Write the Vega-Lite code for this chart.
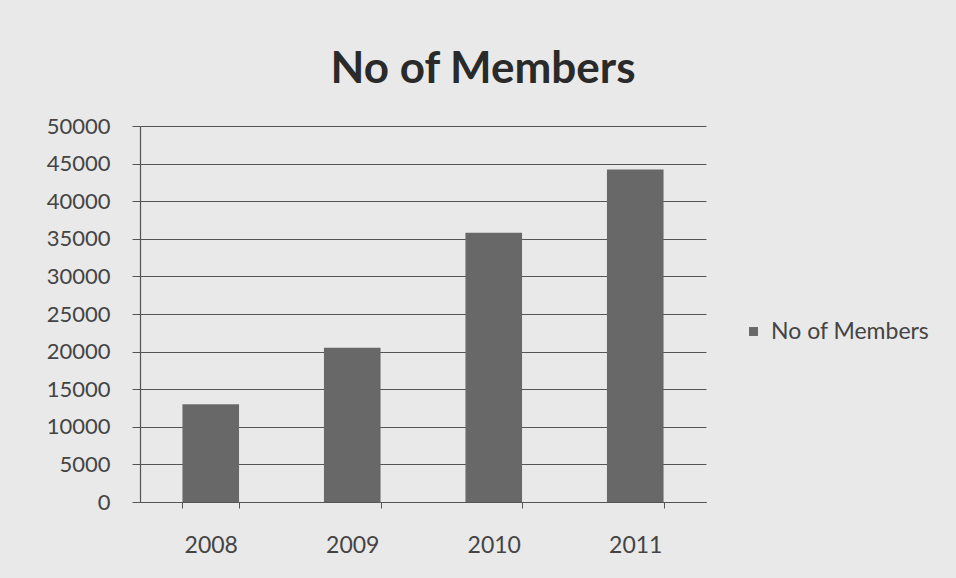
{
  "$schema": "https://vega.github.io/schema/vega-lite/v6.json",
  "autosize": "none",
  "width": 566,
  "height": 376,
  "padding": {"left": 140, "top": 126, "right": 250, "bottom": 76},
  "background": "#e9e9e9",
  "config": {
    "font": "Lato",
    "view": {"stroke": null},
    "axis": {"labelFont": "Lato", "labelColor": "#444444", "domainColor": "#555555", "tickColor": "#555555", "gridColor": "#555555"}
  },
  "title": {
    "text": "No of Members",
    "fontSize": 44,
    "font": "Lato",
    "fontWeight": "bold",
    "color": "#2a2a2a",
    "anchor": "middle",
    "dx": 60,
    "offset": 23
  },
  "data": {
    "values": [
      {"year": "2008", "members": 13000, "series": "No of Members"},
      {"year": "2009", "members": 20500, "series": "No of Members"},
      {"year": "2010", "members": 35800, "series": "No of Members"},
      {"year": "2011", "members": 44200, "series": "No of Members"}
    ]
  },
  "mark": {"type": "bar", "color": "#686868"},
  "encoding": {
    "x": {
      "field": "year",
      "type": "nominal",
      "scale": {"paddingInner": 0.6, "paddingOuter": 0.3},
      "axis": {"title": null, "labelAngle": 0, "labelFontSize": 23, "labelPadding": 26, "tickBand": "extent", "tickSize": 6, "domainWidth": 1.2, "grid": false}
    },
    "y": {
      "field": "members",
      "type": "quantitative",
      "scale": {"domain": [0, 50000]},
      "axis": {"title": null, "values": [0,5000,10000,15000,20000,25000,30000,35000,40000,45000,50000], "format": "d", "labelFontSize": 22, "tickSize": 8, "labelPadding": 22, "gridWidth": 1.2, "domainWidth": 1.2}
    },
    "color": {
      "field": "series",
      "type": "nominal",
      "scale": {"range": ["#686868"]},
      "legend": {"title": null, "orient": "none", "legendX": 602, "legendY": 194, "symbolType": "square", "symbolSize": 80, "symbolOffset": 0, "labelFontSize": 23, "labelColor": "#444444", "labelFont": "Lato", "labelOffset": 6}
    }
  }
}
